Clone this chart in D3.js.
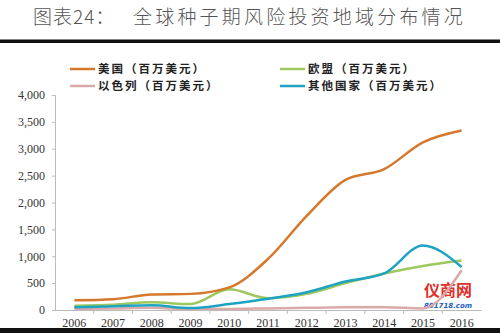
<!DOCTYPE html>
<html><head><meta charset="utf-8">
<script src="https://cdn.jsdelivr.net/npm/d3@7/dist/d3.min.js"></script>
<style>body{margin:0;background:#fff}svg{display:block}</style>
</head><body>
<script>
const years = ["2006","2007","2008","2009","2010","2011","2012","2013","2014","2015","2016"];
const usa    = [180, 200, 290, 300, 420, 950, 1750, 2420, 2620, 3120, 3340];
const eu     = [80, 100, 145, 110, 385, 220, 300, 500, 680, 820, 920];
const israel = [20, 30, 40, 20, 20, 30, 40, 50, 50, 30, 740];
const other  = [50, 70, 90, 35, 110, 210, 330, 530, 680, 1200, 800];
const yTicks = [0, 500, 1000, 1500, 2000, 2500, 3000, 3500, 4000];
const seriesNames = ["美国（百万美元）", "欧盟（百万美元）", "以色列（百万美元）", "其他国家（百万美元）"];
const colors = ["#d6782c", "#9cc85e", "#d9aaa8", "#1fa3c3"];
const seriesData = [usa, eu, israel, other];

const W = 500, H = 333;
const svg = d3.select("body").append("svg").attr("width", W).attr("height", H);

// title
svg.append("text").attr("x", 33).attr("y", 24)
  .attr("font-family", "Noto Sans CJK SC").attr("font-size", 19).attr("font-weight", 300)
  .attr("fill", "#555").attr("letter-spacing", 1)
  .text("图表24：");
svg.append("text").attr("x", 133).attr("y", 24)
  .attr("font-family", "Noto Sans CJK SC").attr("font-size", 19).attr("font-weight", 300)
  .attr("fill", "#555").attr("letter-spacing", 3.2)
  .text("全球种子期风险投资地域分布情况");
svg.append("rect").attr("x", 0).attr("y", 39.5).attr("width", W).attr("height", 3.5).attr("fill", "#111");
svg.append("rect").attr("x", 0).attr("y", 328).attr("width", W).attr("height", 5).attr("fill", "#111");

const x = d3.scaleBand().domain(years).range([55, 481]);
const y = d3.scaleLinear().domain([0, 4000]).range([310, 95]);

// y axis
const ya = svg.append("g").attr("transform", "translate(55,0)")
  .call(d3.axisLeft(y).tickValues(yTicks).tickFormat(d3.format(",")).tickSize(3));
ya.select(".domain").attr("stroke", "#bbb");
ya.selectAll(".tick line").attr("stroke", "#bbb");
ya.selectAll("text").attr("font-family", "Liberation Serif").attr("font-size", 12).attr("fill", "#333").attr("x", -10);

// x axis
const xa = svg.append("g").attr("transform", "translate(0,310)")
  .call(d3.axisBottom(x).tickSize(0));
xa.select(".domain").attr("stroke", "#bbb");
xa.selectAll("text").attr("font-family", "Liberation Serif").attr("font-size", 12).attr("fill", "#333").attr("dy", "1.2em");
xa.selectAll(".sep").data(years.slice(1)).enter().append("line")
  .attr("x1", d => x(d)).attr("x2", d => x(d)).attr("y1", 0).attr("y2", 4).attr("stroke", "#bbb");

// watermark (behind lines)
svg.append("text").attr("x", 448).attr("y", 296).attr("text-anchor", "middle")
  .attr("font-family", "Noto Sans CJK SC").attr("font-size", 16).attr("font-weight", 700)
  .attr("fill", "#e0302a").text("仪商网");
svg.append("text").attr("x", 448).attr("y", 308).attr("text-anchor", "middle")
  .attr("font-family", "DejaVu Sans").attr("font-size", 7).attr("font-style", "italic").attr("font-weight", 700)
  .attr("fill", "#1e5cc8").text("861718.com");

const line = d3.line().x((d, i) => x(years[i]) + x.bandwidth() / 2).y(d => y(d)).curve(d3.curveMonotoneX);
const order = [2, 1, 3, 0];
order.forEach(k => {
  svg.append("path").datum(seriesData[k]).attr("d", line)
    .attr("fill", "none").attr("stroke", colors[k]).attr("stroke-width", 2.5);
});

// legend
const lg = [[70, 69, 0], [280, 69, 1], [70, 86, 2], [280, 86, 3]];
lg.forEach(([lx, ly, k]) => {
  svg.append("line").attr("x1", lx).attr("x2", lx + 25).attr("y1", ly).attr("y2", ly)
    .attr("stroke", colors[k]).attr("stroke-width", 2.5);
  svg.append("text").attr("x", lx + 28).attr("y", ly + 4)
    .attr("font-family", "Noto Sans CJK SC").attr("font-size", 11.5).attr("font-weight", 700)
    .attr("fill", "#222").attr("letter-spacing", 2).text(seriesNames[k]);
});
</script>
</body></html>
